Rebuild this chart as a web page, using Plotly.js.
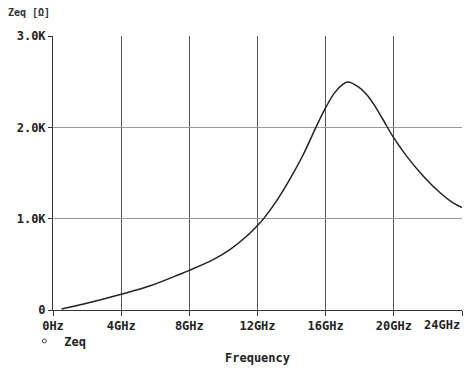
<!DOCTYPE html>
<html>
<head>
<meta charset="utf-8">
<script src="https://cdn.plot.ly/plotly-3.0.1.min.js"></script>
<style>html,body{margin:0;padding:0;background:#fff;}#chart{width:464px;height:368px;}</style>
</head>
<body>
<div id="chart"></div>
<script>
// Frequency in GHz
const freqGHz = [0.5, 1.8, 4.0, 5.7, 7.45, 8.0, 9.4, 10.38, 11.36, 12.0, 12.35, 13.12, 13.9, 14.68, 15.43, 16.0, 16.53, 17.0, 17.3, 17.9, 18.4, 18.79, 19.37, 19.96, 20.75, 21.72, 22.7, 23.48, 24.0];
// Zeq in ohms
const zeq = [10, 65, 172, 265, 392, 434, 551, 661, 807, 925, 998, 1195, 1432, 1700, 2000, 2215, 2380, 2470, 2495, 2445, 2360, 2262, 2083, 1895, 1685, 1468, 1286, 1172, 1122];
const xTickVals = [0, 4, 8, 12, 16, 20, 24];
const xTickText = ["0Hz", "4GHz", "8GHz", "12GHz", "16GHz", "20GHz", "24GHz"];
const yTickVals = [0, 1000, 2000, 3000];
const yTickText = ["0", "1.0K", "2.0K", "3.0K"];
const seriesName = "Zeq";
const yTitle = "Zeq [\u03A9]";
const xTitle = "Frequency";

const fnt = {family: "DejaVu Sans Mono, monospace", size: 12, color: "#222", weight: "bold"};
const lastIdx = xTickText.length - 1;

const data = [
  {x: freqGHz, y: zeq, mode: "lines", line: {color: "#222", width: 1.5, shape: "spline", smoothing: 1}, showlegend: false, hoverinfo: "skip"},
  {x: [null], y: [null], mode: "markers", name: seriesName, marker: {symbol: "circle-open", size: 4, color: "#444", line: {width: 1}}}
];

const layout = {
  width: 464, height: 368,
  margin: {l: 53, r: 2, t: 36, b: 58},
  paper_bgcolor: "#fff", plot_bgcolor: "#fff",
  font: fnt,
  showlegend: true,
  legend: {x: -0.07, xanchor: "left", y: -0.06, yanchor: "top", orientation: "h", font: fnt, bgcolor: "rgba(0,0,0,0)", itemwidth: 30},
  xaxis: {
    range: [0, 24], tickvals: xTickVals,
    ticktext: xTickText.map((t, i) => i === lastIdx ? "" : t),
    showline: true, linecolor: "#333", linewidth: 1,
    showgrid: true, gridcolor: "#555", gridwidth: 1,
    ticks: "outside", ticklen: 5, tickcolor: "#333",
    zeroline: false, tickfont: fnt,
    title: {text: xTitle, font: fnt, standoff: 21}
  },
  yaxis: {
    range: [0, 3000], tickvals: yTickVals, ticktext: yTickText,
    showline: true, linecolor: "#333", linewidth: 1,
    showgrid: true, gridcolor: "#999", gridwidth: 1,
    ticks: "outside", ticklen: 4, tickcolor: "#333",
    zeroline: false, tickfont: fnt
  },
  annotations: [
    {xref: "x", yref: "paper", x: xTickVals[lastIdx], y: 0, yshift: -6, xanchor: "right", yanchor: "top", showarrow: false, text: xTickText[lastIdx], font: fnt},
    {xref: "paper", yref: "paper", x: -0.115, y: 1.06, xanchor: "left", yanchor: "bottom", showarrow: false, text: yTitle, font: {family: "DejaVu Sans Mono, monospace", size: 10, color: "#333"}}
  ]
};

Plotly.newPlot("chart", data, layout, {staticPlot: true, displayModeBar: false});
</script>
</body>
</html>
